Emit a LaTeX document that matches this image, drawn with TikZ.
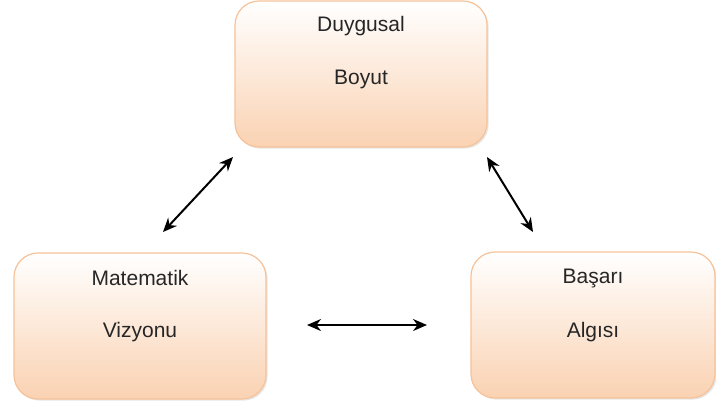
\documentclass[tikz,border=0pt]{standalone}
\usepackage{fontspec}
\setmainfont{Liberation Sans}
\usetikzlibrary{arrows.meta,shadows}
\definecolor{peach}{HTML}{FAD2B2}
\definecolor{peachline}{HTML}{F6C29A}
\tikzset{
  box/.style={rectangle,rounded corners=12pt,draw=peachline,line width=0.6pt,
    top color=white,bottom color=peach,minimum width=126pt,minimum height=73pt,
    drop shadow={opacity=0.2,shadow xshift=0.8pt,shadow yshift=-0.8pt}},
  lbl/.style={font=\fontsize{10.5}{12}\selectfont,text=black!85},
  conn/.style={{Stealth[length=7pt,width=6pt]}-{Stealth[length=7pt,width=6pt]},line width=1pt}
}
\begin{document}
\begin{tikzpicture}[x=0.5pt,y=-0.5pt]
                    \useasboundingbox (0,0) rectangle (716,409);
                    \node[box] (duy) at (361,74) {};
                    \node[box] (mat) at (140,326) {};
                    \node[box,minimum width=122pt] (bas) at (593,325) {};
                    \node[lbl] (duyA) at ([yshift=-13pt]duy.north) {Duygusal};
                    \node[lbl] (duyB) at ([yshift=-39.5pt]duy.north) {Boyut};
                    \node[lbl] (matA) at ([yshift=-13pt]mat.north) {Matematik};
                    \node[lbl] (matB) at ([yshift=-40pt]mat.north) {Vizyonu};
                    \node[lbl] (basA) at ([yshift=-13.5pt]bas.north) {Başarı};
                    \node[lbl] (basB) at ([yshift=-40.5pt]bas.north) {Algısı};
                    \coordinate (l1) at (163,232);
                    \coordinate (l2) at (233,157);
                    \coordinate (r1) at (487,157);
                    \coordinate (r2) at (533,232);
                    \coordinate (h1) at (307,325);
                    \coordinate (h2) at (427,325);
                    \draw[conn] (l1)--(l2);
                    \draw[conn] (r1)--(r2);
                    \draw[conn] (h1)--(h2);
                \end{tikzpicture}
\end{document}
